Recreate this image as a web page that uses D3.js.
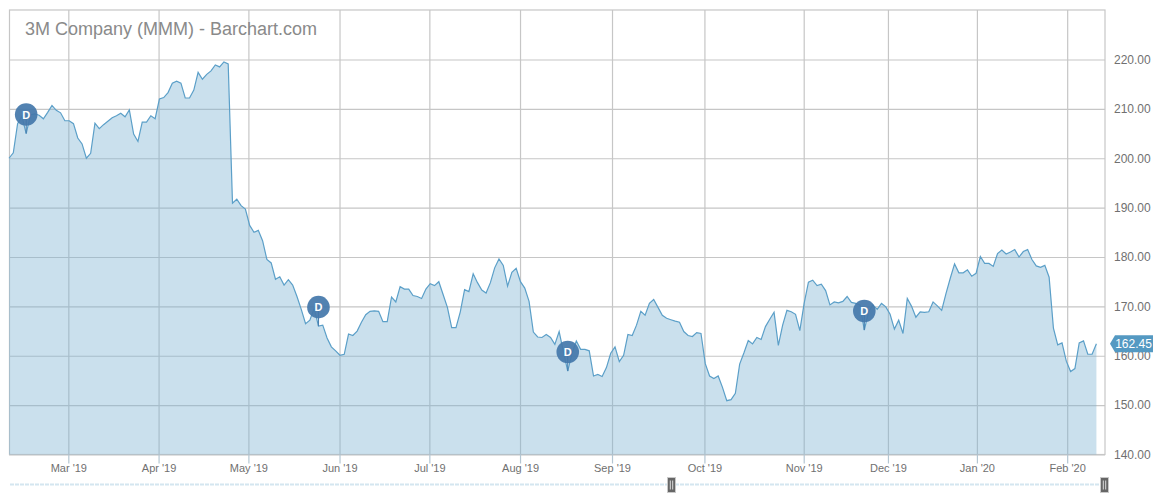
<!DOCTYPE html>
<html>
<head>
<meta charset="utf-8">
<script src="https://cdn.jsdelivr.net/npm/d3@7/dist/d3.min.js"></script>
<style>
  html, body { margin: 0; padding: 0; background: #fff; }
  svg { display: block; font-family: "Liberation Sans", Arial, sans-serif; }
  .domain { display: none; }
</style>
</head>
<body>
<svg id="chart" width="1156" height="500"></svg>
<script>
// daily closes, one per trading session
const closes = [
  200.0, 201.1, 207.0, 208.5, 205.0, 208.8, 209.0, 208.7, 208.0, 209.3, 210.7, 209.7, 209.2, 207.6,
  207.6, 207.0, 204.1, 202.9, 200.0, 201.0, 207.1, 206.0, 206.8, 207.5, 208.2, 208.6, 209.1, 208.4, 209.8, 204.9, 203.4, 207.3, 207.3, 208.6, 208.0,
  212.0, 212.3, 213.3, 215.2, 215.6, 215.2, 212.2, 212.2, 213.8, 217.4, 216.0, 217.0, 217.7, 218.9, 218.5, 219.5, 219.1,
  190.9, 191.7, 190.4, 189.7, 186.4, 185.0, 185.4, 183.3, 179.5, 178.8, 175.5, 176.0, 174.3, 175.4, 174.3, 172.0, 169.4, 166.5, 167.2, 169.6,
  166.0, 166.2, 163.6, 161.8, 161.0, 160.1, 160.3, 164.4, 164.1, 165.0, 166.8, 168.3, 169.0, 169.1, 169.0, 166.9, 166.9, 171.9, 170.9, 174.0,
  173.5, 173.5, 172.2, 172.0, 171.6, 173.5, 174.6, 174.2, 175.0, 172.4, 169.8, 165.7, 165.7, 168.9, 173.4, 173.0, 176.6, 174.8, 173.3, 172.7,
  174.8, 177.8, 179.6, 178.3, 174.1, 176.9, 177.7, 175.0, 173.7, 171.0, 164.8, 163.8, 163.7, 164.3, 163.7, 162.3, 164.9, 160.8, 156.9, 160.5,
  163.0, 161.3, 161.3, 161.0, 155.9, 156.2, 155.8, 157.6, 160.5, 161.8, 158.8, 160.1, 164.3, 164.1, 166.2, 169.0, 168.2, 170.6, 171.4, 169.8,
  168.2, 167.6, 167.3, 167.0, 166.8, 164.9, 164.1, 163.9, 164.7, 164.5, 158.4, 155.9, 155.4, 155.9, 153.6, 150.9, 151.1, 152.4, 158.3, 160.6,
  163.1, 162.4, 163.7, 163.3, 165.9, 167.4, 168.8, 162.1, 166.2, 169.2, 168.9, 168.4, 165.1, 170.6, 174.9, 175.3, 174.2, 174.5, 173.2, 170.3,
  170.9, 170.7, 171.0, 172.0, 170.8, 170.6, 170.3, 165.2, 168.9, 170.3, 169.4, 170.6, 169.9, 168.4, 165.4, 167.2, 164.5, 171.6, 170.0, 167.8,
  168.9, 168.8, 168.9, 170.9, 170.1, 169.2, 172.6, 175.7, 178.6, 176.8, 176.8, 177.4, 176.1, 176.7, 180.1, 178.7, 178.7, 178.1, 180.7, 181.4,
  180.6, 181.0, 181.5, 180.0, 181.1, 181.5, 179.5, 178.2, 177.9, 178.3, 175.9, 165.6, 162.2, 162.6, 158.9, 156.8, 157.4, 162.6, 163.0, 160.3,
  160.3, 162.45
];

const priceTicks = [140, 150, 160, 170, 180, 190, 200, 210, 220];
const monthLabels = ["Mar '19", "Apr '19", "May '19", "Jun '19", "Jul '19", "Aug '19", "Sep '19", "Oct '19", "Nov '19", "Dec '19", "Jan '20", "Feb '20"];
// session index where each month starts
const monthSessions = [13.8, 34.8, 55.7, 76.9, 97.8, 118.9, 140.3, 161.8, 184.9, 204.5, 225.2, 246.2];
// sessions that carry a dividend flag
const dividendSessions = [4, 72, 130, 199];

const LINE = '#5b9fc8';
const GRID = '#c6c6c6';

const svg = d3.select('#chart');

const x = d3.scaleLinear().domain([0, closes.length - 1]).range([9, 1096.4]);
const y = d3.scaleLinear().domain([140, 220]).range([454.5, 59.5]);

// frame
svg.append('rect')
  .attr('x', 9.5).attr('y', 10)
  .attr('width', 1095.5).attr('height', 444.5)
  .attr('fill', 'none').attr('stroke', GRID).attr('stroke-width', 1.2);

// gridlines + tick labels
const yAxis = d3.axisRight(y)
  .tickValues(priceTicks)
  .tickFormat(d3.format('.2f'))
  .tickSize(-1096)
  .tickPadding(9);

svg.append('g')
  .attr('transform', 'translate(1105,0)')
  .call(yAxis)
  .call(g => g.selectAll('.tick line').attr('stroke', GRID).attr('stroke-width', 1.2))
  .call(g => g.selectAll('.tick text').attr('fill', '#707070').attr('font-size', 12).attr('font-family', 'inherit'));

const xAxis = d3.axisBottom(x)
  .tickValues(monthSessions)
  .tickFormat((d, i) => monthLabels[i])
  .tickSize(-444.5)
  .tickPadding(9);

const xg = svg.append('g')
  .attr('transform', 'translate(0,454.5)')
  .call(xAxis);
xg.selectAll('.tick line').attr('stroke', GRID).attr('stroke-width', 1.2).attr('y2', -444.5);
xg.selectAll('.tick text').attr('fill', '#707070').attr('font-size', 11).attr('font-family', 'inherit').attr('y', 10);
// small stubs under the plot
xg.selectAll('.tick').append('line')
  .attr('y1', 0).attr('y2', 9)
  .attr('stroke', '#b4c6d2').attr('stroke-width', 1.2);

// area and line
const area = d3.area()
  .x((d, i) => x(i))
  .y0(y(140))
  .y1(d => y(d));

const line = d3.line()
  .x((d, i) => x(i))
  .y(d => y(d));

svg.append('path')
  .datum(closes)
  .attr('d', area)
  .attr('fill', 'rgb(122,178,210)')
  .attr('fill-opacity', 0.4);

svg.append('path')
  .datum(closes)
  .attr('d', line)
  .attr('fill', 'none')
  .attr('stroke', LINE)
  .attr('stroke-width', 1.2);

// title
svg.append('text')
  .attr('x', 25).attr('y', 35)
  .attr('font-size', 18)
  .attr('fill', '#8a8a8a')
  .text('3M Company (MMM) - Barchart.com');

// dividend flags
const flags = svg.append('g').selectAll('g')
  .data(dividendSessions)
  .join('g')
  .attr('transform', d => `translate(${x(d)},${y(closes[d])})`);

flags.append('line')
  .attr('y1', 0).attr('y2', -19)
  .attr('stroke', '#4a80b0').attr('stroke-width', 1.2);

flags.append('circle')
  .attr('cy', -19).attr('r', 11.3)
  .attr('fill', '#4579ab')
  .attr('fill-opacity', 0.93);

flags.append('text')
  .attr('y', -15)
  .attr('text-anchor', 'middle')
  .attr('font-size', 11)
  .attr('font-weight', 'bold')
  .attr('fill', '#fff')
  .text('D');

// last price tag
const last = closes[closes.length - 1];
const tag = svg.append('g').attr('transform', `translate(1110,${y(last)})`);
tag.append('path')
  .attr('d', 'M0,0 L5,-8.5 H43 V8.5 H5 Z')
  .attr('fill', '#5499c2');
tag.append('text')
  .attr('x', 23.5).attr('y', 4.5)
  .attr('text-anchor', 'middle')
  .attr('font-size', 12)
  .attr('fill', '#fff')
  .text(d3.format('.2f')(last));

// range navigator at the bottom
svg.append('line')
  .attr('x1', 10).attr('x2', 1104)
  .attr('y1', 484.5).attr('y2', 484.5)
  .attr('stroke', '#d4e6f0')
  .attr('stroke-width', 2)
  .attr('stroke-dasharray', '4,1');

const handles = svg.append('g').selectAll('g')
  .data([671.5, 1104.5])
  .join('g')
  .attr('transform', d => `translate(${d},485)`);

handles.append('rect')
  .attr('x', -4).attr('y', -7.5)
  .attr('width', 8).attr('height', 15)
  .attr('fill', '#666')
  .attr('stroke', '#c9c9c9');

handles.selectAll('line')
  .data([-1.2, 1.2])
  .join('line')
  .attr('x1', d => d).attr('x2', d => d)
  .attr('y1', -4.5).attr('y2', 4.5)
  .attr('stroke', '#ddd');
</script>
</body>
</html>
